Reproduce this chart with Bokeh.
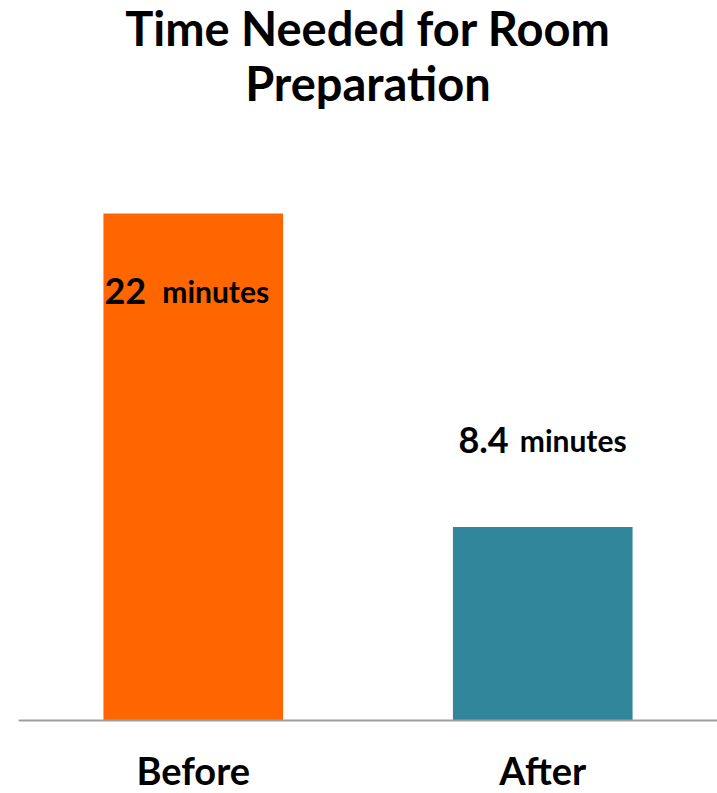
from bokeh.plotting import figure
from bokeh.models import ColumnDataSource, FactorRange, Range1d, Span
from bokeh.core.properties import value
from bokeh.embed import file_html
from bokeh.resources import INLINE

# Chart data
title_lines = ["Time Needed for Room", "Preparation"]
stages = ["Before", "After"]
minutes = [22, 8.4]
number_labels = ["22", "8.4"]
unit_labels = ["minutes", "minutes"]
bar_colors = ["#FF6600", "#31869B"]

# Label placement (screen-pixel offsets from each bar's centre / top)
num_dx = [-47, -34]
unit_dx = [-31, -23]
label_dy = [78, -87]

FONT = "Lato"
PX_PER_MIN = 23.05
BASELINE = 720          # pixel row of the zero line
H, W = 793, 717
LEFT = 18


def px_to_y(row):
    """Convert a pixel row (from the top) into a data y value."""
    return (BASELINE - row) / PX_PER_MIN


src = ColumnDataSource(dict(
    stage=stages, minutes=minutes, num=number_labels, unit=unit_labels,
    color=bar_colors, num_dx=num_dx, unit_dx=unit_dx, dy=label_dy,
))

p = figure(
    width=W, height=H,
    x_range=FactorRange(factors=stages, range_padding=0),
    y_range=Range1d(px_to_y(H), px_to_y(0)),
    output_backend="svg", toolbar_location=None,
    x_axis_location=None, y_axis_location=None,
    min_border_left=LEFT, min_border_right=0,
    min_border_top=0, min_border_bottom=0,
)
p.outline_line_color = None
p.grid.visible = False
p.background_fill_color = "white"
p.border_fill_color = "white"

p.vbar(x="stage", top="minutes", bottom=0, width=0.514, color="color",
       line_color=None, source=src)

# zero line
p.add_layout(Span(location=0, dimension="width", line_color="#9E9E9E", line_width=2))

# value labels: bold number followed by a smaller unit
p.text(x="stage", y="minutes", text="num", x_offset="num_dx", y_offset="dy",
       text_align="right", text_baseline="alphabetic",
       text_font=value(FONT), text_font_style="bold", text_font_size="36px",
       text_color="black", source=src)
p.text(x="stage", y="minutes", text="unit", x_offset="unit_dx", y_offset="dy",
       text_align="left", text_baseline="alphabetic",
       text_font=value(FONT), text_font_style="bold", text_font_size="30px",
       text_color="black", source=src)

# category names under the zero line
p.text(x="stage", y=0, text="stage", y_offset=49,
       text_align="center", text_baseline="alphabetic",
       text_font=value(FONT), text_font_style="bold", text_font_size="38px",
       text_color="black", source=src)

# two-line heading, centred over the plot area
p.text(x=[1.0, 1.0], y=[px_to_y(27), px_to_y(82)], text=title_lines,
       text_align="center", text_baseline="alphabetic",
       text_font=value(FONT), text_font_style="bold", text_font_size="47px",
       text_color="black")

open("out.html", "w").write(file_html(p, INLINE))
